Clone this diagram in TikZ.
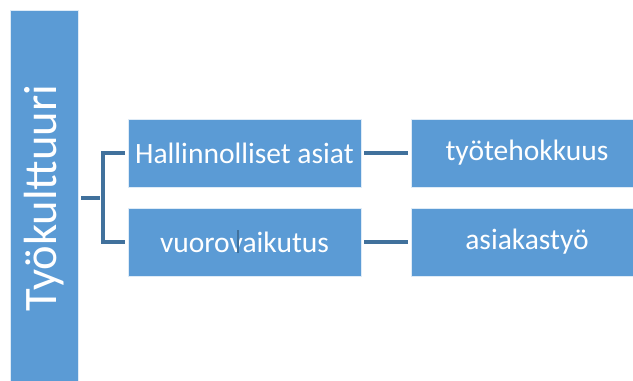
\documentclass[tikz,border=0pt]{standalone}
\usepackage{fontspec}
\setmainfont{Carlito}
\usetikzlibrary{calc}
\definecolor{laatikko}{HTML}{5B9BD5}
\definecolor{viiva}{HTML}{41719C}

\begin{document}
\begin{tikzpicture}[x=0.02cm,y=-0.02cm,
	laatikko/.style={fill=laatikko,draw=white!80!laatikko,line width=0.4pt,text=white,inner sep=0pt,
		minimum height=1.36cm,font=\fontsize{16.8}{20}\selectfont},
	yhteys/.style={draw=viiva,line width=1.8pt,shorten <=1.7pt,shorten >=1.7pt}]
\useasboundingbox (0,0) rectangle (633,380);
\clip (0,0) rectangle (633,380);

\coordinate (haara) at (103,198);

\node[laatikko,rotate=90,minimum width=7.5cm,font=\fontsize{26.5}{30}\selectfont] (k0) at (44,198) {Työkulttuuri};
\node[laatikko,minimum width=4.66cm] (a1) at (244.5,153) {Hallinnolliset asiat};
\node[laatikko,minimum width=4.66cm] (a2) at (244.5,242) {vuorovaikutus};
\node[laatikko,minimum width=4.64cm] (b1) at (527,153) {työtehokkuus};
\node[laatikko,minimum width=4.64cm] (b2) at (527,242) {asiakastyö};

\draw[yhteys] (k0.south |- haara) -- (haara);
\draw[yhteys] (a1.west) -| (haara) |- (a2.west);
\draw[yhteys] (a1.east) -- (b1.west);
\draw[yhteys] (a2.east) -- (b2.west);
\draw[viiva,line width=1.2pt] (238,230) -- (238,253);

\end{tikzpicture}
\end{document}
